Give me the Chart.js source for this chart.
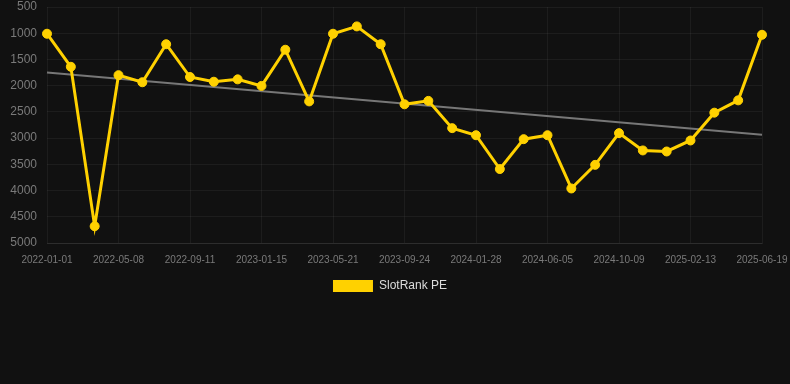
<!DOCTYPE html>
<html>
<head>
<meta charset="utf-8">
<script src="https://cdn.jsdelivr.net/npm/chart.js@4/dist/chart.umd.min.js"></script>
<style>
html,body{margin:0;padding:0;background:#111111;}
#wrap{width:790px;height:384px;position:relative;}
</style>
</head>
<body>
<div id="wrap"><canvas id="c"></canvas></div>
<script>
const categories = [
  "2022-01-01","2022-02-12","2022-03-26","2022-05-08","2022-06-19","2022-07-31",
  "2022-09-11","2022-10-23","2022-12-04","2023-01-15","2023-02-26","2023-04-09",
  "2023-05-21","2023-07-02","2023-08-13","2023-09-24","2023-11-05","2023-12-17",
  "2024-01-28","2024-03-10","2024-04-23","2024-06-05","2024-07-17","2024-08-28",
  "2024-10-09","2024-11-20","2025-01-01","2025-02-13","2025-03-27","2025-05-08",
  "2025-06-19"
];
const slotRankPE = [
  1010, 1640, 4680, 1800, 1935, 1210, 1835, 1925, 1880, 2005, 1315, 2300,
  1010, 870, 1210, 2355, 2290, 2810, 2945, 3590, 3020, 2945, 3960, 3510,
  2905, 3235, 3255, 3045, 2515, 2280, 1030
];
const trendStart = 1750;
const trendEnd = 2935;
const trendValues = categories.map((_, i) => i === 0 ? trendStart : (i === categories.length - 1 ? trendEnd : null));
const yTicks = [500, 1000, 1500, 2000, 2500, 3000, 3500, 4000, 4500, 5000];

new Chart(document.getElementById('c'), {
  type: 'line',
  data: {
    labels: categories,
    datasets: [
      {
        label: 'SlotRank PE',
        data: slotRankPE,
        borderColor: '#ffd100',
        backgroundColor: '#ffd100',
        borderWidth: 3,
        pointRadius: 4.5,
        pointBorderWidth: 1,
        pointHoverRadius: 4.5,
        pointBackgroundColor: '#ffd100',
        pointBorderColor: '#ffd100',
        tension: 0,
        order: 1
      },
      {
        label: 'trend',
        data: trendValues,
        borderColor: '#777777',
        borderWidth: 2,
        pointRadius: 0,
        spanGaps: true,
        order: 2
      }
    ]
  },
  options: {
    responsive: true,
    maintainAspectRatio: false,
    animation: false,
    layout: { padding: { top: 0, right: 10, bottom: 82, left: 0 } },
    plugins: {
      legend: {
        position: 'bottom',
        labels: {
          color: '#dddddd',
          font: { family: 'Liberation Sans, Arial, sans-serif', size: 12 },
          boxWidth: 40,
          boxHeight: 12,
          padding: 3,
          filter: (item) => item.text !== 'trend',
          generateLabels: (chart) => Chart.defaults.plugins.legend.labels.generateLabels(chart).map(it => Object.assign(it, { lineWidth: 0 }))
        }
      },
      tooltip: { enabled: false }
    },
    scales: {
      x: {
        offset: false,
        grid: {
          color: (ctx) => (ctx.index % 3 === 0 ? 'rgba(255,255,255,0.05)' : 'rgba(0,0,0,0)'),
          drawTicks: false
        },
        border: { color: 'rgba(255,255,255,0.07)' },
        ticks: {
          color: '#7a7a7a',
          font: { family: 'Liberation Sans, Arial, sans-serif', size: 10 },
          maxRotation: 0,
          autoSkip: false,
          padding: 11,
          callback: function(v, i) { return i % 3 === 0 ? categories[i] : ''; }
        },
        afterFit: (scale) => { scale.paddingRight = 28; scale.paddingLeft = 0; }
      },
      y: {
        reverse: true,
        min: 500,
        max: 5000,
        afterBuildTicks: (axis) => { axis.ticks = yTicks.map(v => ({ value: v })); },
        grid: { color: 'rgba(255,255,255,0.05)', drawTicks: false },
        border: { display: false },
        ticks: {
          color: '#7a7a7a',
          font: { family: 'Liberation Sans, Arial, sans-serif', size: 12 },
          padding: 10,
          callback: (v) => String(v)
        },
        afterFit: (scale) => { scale.width = 47; scale.paddingTop = 7; scale.paddingBottom = 0; }
      }
    }
  }
});
</script>
</body>
</html>
